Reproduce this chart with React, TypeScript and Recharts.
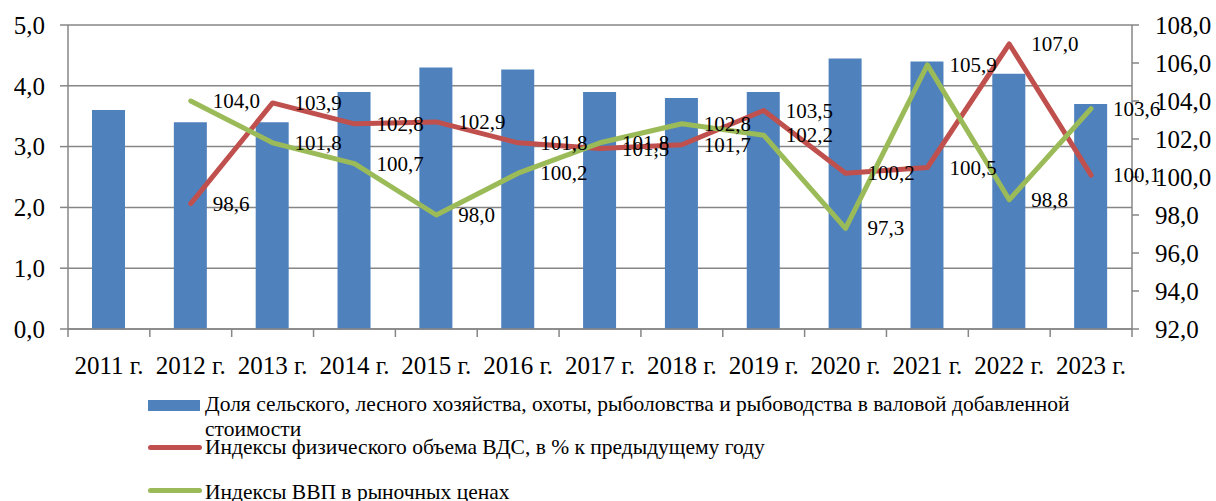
import { ComposedChart, Bar, Line, XAxis, YAxis, CartesianGrid, LabelList } from "recharts";

const years = ["2011 г.", "2012 г.", "2013 г.", "2014 г.", "2015 г.", "2016 г.", "2017 г.", "2018 г.", "2019 г.", "2020 г.", "2021 г.", "2022 г.", "2023 г."];
const agroShare = [3.6, 3.4, 3.4, 3.9, 4.3, 4.27, 3.9, 3.8, 3.9, 4.45, 4.4, 4.2, 3.7];
const vdsIndex = [null, 98.6, 103.9, 102.8, 102.9, 101.8, 101.5, 101.7, 103.5, 100.2, 100.5, 107.0, 100.1];
const gdpIndex = [null, 104.0, 101.8, 100.7, 98.0, 100.2, 101.8, 102.8, 102.2, 97.3, 105.9, 98.8, 103.6];
const leftTicks = [0, 1, 2, 3, 4, 5];
const rightTicks = [92, 94, 96, 98, 100, 102, 104, 106, 108];

const rows = years.map((y, i) => ({ year: y, share: agroShare[i], vds: vdsIndex[i], gdp: gdpIndex[i] }));

const W = 1216;
const H = 501;
const LEFT_W = 68;
const RIGHT_W = 84;
const BAND = (W - LEFT_W - RIGHT_W) / years.length;
const FONT = "'Liberation Serif', 'Times New Roman', serif";
const AXIS = "#868686";

const fmt = (v: number) => v.toFixed(1).replace(".", ",");

const XTick = (props: any) => {
  const { x, y, payload, index } = props;
  const last = index === years.length - 1;
  return (
    <g>
      <line x1={x - BAND / 2} x2={x - BAND / 2} y1={y} y2={y + 8} stroke={AXIS} strokeWidth={1.5} />
      {last && <line x1={x + BAND / 2} x2={x + BAND / 2} y1={y} y2={y + 8} stroke={AXIS} strokeWidth={1.5} />}
      <text x={x} y={y + 36} textAnchor="middle" dominantBaseline="central" fontSize={25} fontFamily={FONT} fill="#000">
        {payload.value}
      </text>
    </g>
  );
};

const pointLabel = (props: any) => {
  const { x, y, value } = props;
  if (value == null) return null;
  return (
    <text x={x + 22} y={y} dominantBaseline="central" fontSize={21} fontFamily={FONT} fill="#000">
      {fmt(value)}
    </text>
  );
};

const legendItems = [
  { kind: "bar", color: "#4F81BD", text: "Доля сельского, лесного хозяйства, охоты, рыболовства и рыбоводства в валовой добавленной стоимости", top: 392, sw: 8 },
  { kind: "line", color: "#C0504D", text: "Индексы физического объема ВДС, в % к предыдущему году", top: 435, sw: 9.5 },
  { kind: "line", color: "#9BBB59", text: "Индексы ВВП в рыночных ценах", top: 480, sw: 7.5 },
];

export default function App() {
  return (
    <div style={{ position: "absolute", left: 0, top: 0, width: W, height: H, background: "#fff", overflow: "hidden" }}>
      <ComposedChart width={W} height={H} data={rows} margin={{ top: 25, right: 0, bottom: 122, left: 0 }}>
        <CartesianGrid yAxisId="left" vertical={false} stroke={AXIS} strokeWidth={1.5} />
        <XAxis
          dataKey="year"
          height={50}
          axisLine={{ stroke: AXIS, strokeWidth: 1.5 }}
          tickLine={false}
          tickSize={0}
          tickMargin={0}
          tick={<XTick />}
          interval={0}
        />
        <YAxis
          yAxisId="left"
          width={LEFT_W}
          domain={[0, 5]}
          ticks={leftTicks}
          tickFormatter={fmt}
          axisLine={{ stroke: AXIS, strokeWidth: 1.5 }}
          tickLine={{ stroke: AXIS, strokeWidth: 1.5 }}
          tickSize={8}
          tickMargin={15}
          tick={{ fontSize: 25, fontFamily: FONT, fill: "#000" }}
        />
        <YAxis
          yAxisId="right"
          orientation="right"
          width={RIGHT_W}
          domain={[92, 108]}
          ticks={rightTicks}
          tickFormatter={fmt}
          axisLine={{ stroke: AXIS, strokeWidth: 1.5 }}
          tickLine={{ stroke: AXIS, strokeWidth: 1.5 }}
          tickSize={7}
          tickMargin={16}
          tick={{ fontSize: 25, fontFamily: FONT, fill: "#000" }}
        />
        <Bar yAxisId="left" dataKey="share" fill="#4F81BD" barSize={33} isAnimationActive={false} />
        <Line yAxisId="right" type="linear" dataKey="vds" stroke="#C0504D" strokeWidth={5} strokeLinejoin="round" strokeLinecap="round" dot={false} isAnimationActive={false}>
          <LabelList dataKey="vds" content={pointLabel} />
        </Line>
        <Line yAxisId="right" type="linear" dataKey="gdp" stroke="#9BBB59" strokeWidth={5} strokeLinejoin="round" strokeLinecap="round" dot={false} isAnimationActive={false}>
          <LabelList dataKey="gdp" content={pointLabel} />
        </Line>
      </ComposedChart>
      {legendItems.map((it) => (
        <div key={it.text} style={{ position: "absolute", left: 148, top: it.top, display: "flex", alignItems: "flex-start", fontFamily: FONT, fontSize: 21.5, lineHeight: "25px", color: "#000" }}>
          <div style={{ width: 54, height: 25, position: "relative", flexShrink: 0 }}>
            {it.kind === "bar" ? (
              <div style={{ position: "absolute", left: 0, top: it.sw, width: 52, height: 11, background: it.color }} />
            ) : (
              <div style={{ position: "absolute", left: 0, top: it.sw, width: 54, height: 5, borderRadius: 3, background: it.color }} />
            )}
          </div>
          <div style={{ marginLeft: 3, width: 880 }}>{it.text}</div>
        </div>
      ))}
    </div>
  );
}
